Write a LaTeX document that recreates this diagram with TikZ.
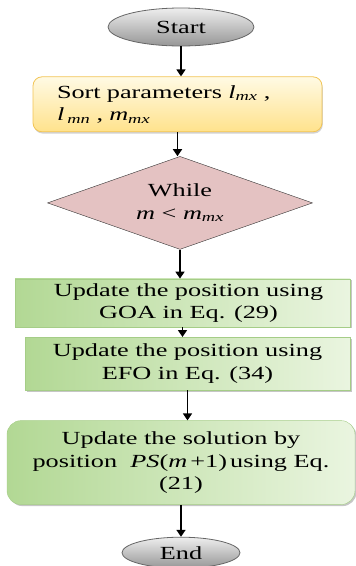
\documentclass[tikz,border=0pt]{standalone}
\usepackage{fontspec}
\setmainfont{Liberation Serif}[FakeStretch=1.42]
\usetikzlibrary{positioning, arrows.meta, shapes.geometric, shadows}

\definecolor{termtop}{RGB}{238,238,238}
\definecolor{termbot}{RGB}{150,150,150}
\definecolor{sorttop}{RGB}{255,250,228}
\definecolor{sortbot}{RGB}{255,226,140}
\definecolor{sortline}{RGB}{242,196,84}
\definecolor{loopfill}{RGB}{228,194,194}
\definecolor{stepdark}{RGB}{178,216,148}
\definecolor{steplight}{RGB}{234,245,224}
\definecolor{stepline}{RGB}{165,205,135}

\begin{document}
\begin{tikzpicture}[x=1pt, y=-1pt, >={Triangle[width=9pt,length=7pt]},
    every node/.style={align=center, inner sep=2pt, font=\fontsize{18.5}{22.5}\selectfont},
    terminal/.style={ellipse, draw=black!60, thick, top color=termtop, bottom color=termbot, inner sep=0pt},
    sortbox/.style={draw=sortline, thick, rounded corners=9pt, top color=sorttop, bottom color=sortbot,
        drop shadow={shadow xshift=0.8pt, shadow yshift=-1.8pt, opacity=.35}},
    loopbox/.style={diamond, aspect=2.85, draw=black!80, fill=loopfill, inner sep=0pt},
    stepbox/.style={draw=stepline, left color=stepdark, right color=steplight,
        drop shadow={shadow xshift=1.5pt, shadow yshift=-1.5pt, opacity=.45}},
    flow/.style={->, line width=1.6pt}]

\useasboundingbox (0,0) rectangle (356,566);

% terminals and steps
\node[terminal, minimum width=146pt, minimum height=38pt] (start) at (181,27) {Start};

\node[sortbox, below=30pt of start, xshift=-3.5pt, minimum width=289pt, minimum height=55pt,
    align=left, text width=241pt, inner xsep=24pt] (sort)
    {Sort parameters \textit{l}\textsubscript{\textit{mx}} ,\\
     \textit{l}\,\textsubscript{\textit{mn}} , \textit{m}\textsubscript{\textit{mx}}};

\node[loopbox, below=24pt of sort, xshift=2.5pt, minimum width=265pt, minimum height=93pt] (while)
    {While\\ \textit{m} < \textit{m}\textsubscript{\textit{mx}}};

\node[stepbox, below=29pt of while, xshift=2.5pt, minimum width=335pt, minimum height=48pt] (goa)
    {\hspace*{12pt}Update the position using\\ \hspace*{12pt}GOA in Eq. (29)};

\node[stepbox, below=10pt of goa, xshift=5pt, minimum width=325pt, minimum height=53pt] (efo)
    {Update the position using\\ EFO in Eq. (34)};

\node[stepbox, rounded corners=14pt, below=30pt of efo, xshift=-6.5pt, minimum width=348pt, minimum height=84pt] (sol)
    {Update the solution by\\ position \ \textit{PS}(\textit{m}\,+1)\,using Eq.\\ (21)};

\node[terminal, below=32pt of sol, minimum width=118pt, minimum height=31pt] (end) {End};

% arrows
\draw[flow] (start) -- (start |- sort.north);
\draw[flow] (sort) -- (sort |- while.north);
\draw[flow] (while.south) -- (while.south |- goa.north);
\draw[flow] (goa) -- (goa |- efo.north);
\draw[flow] (efo) -- (efo |- sol.north);
\draw[flow] (sol) -- (sol |- end.north);

\end{tikzpicture}
\end{document}
